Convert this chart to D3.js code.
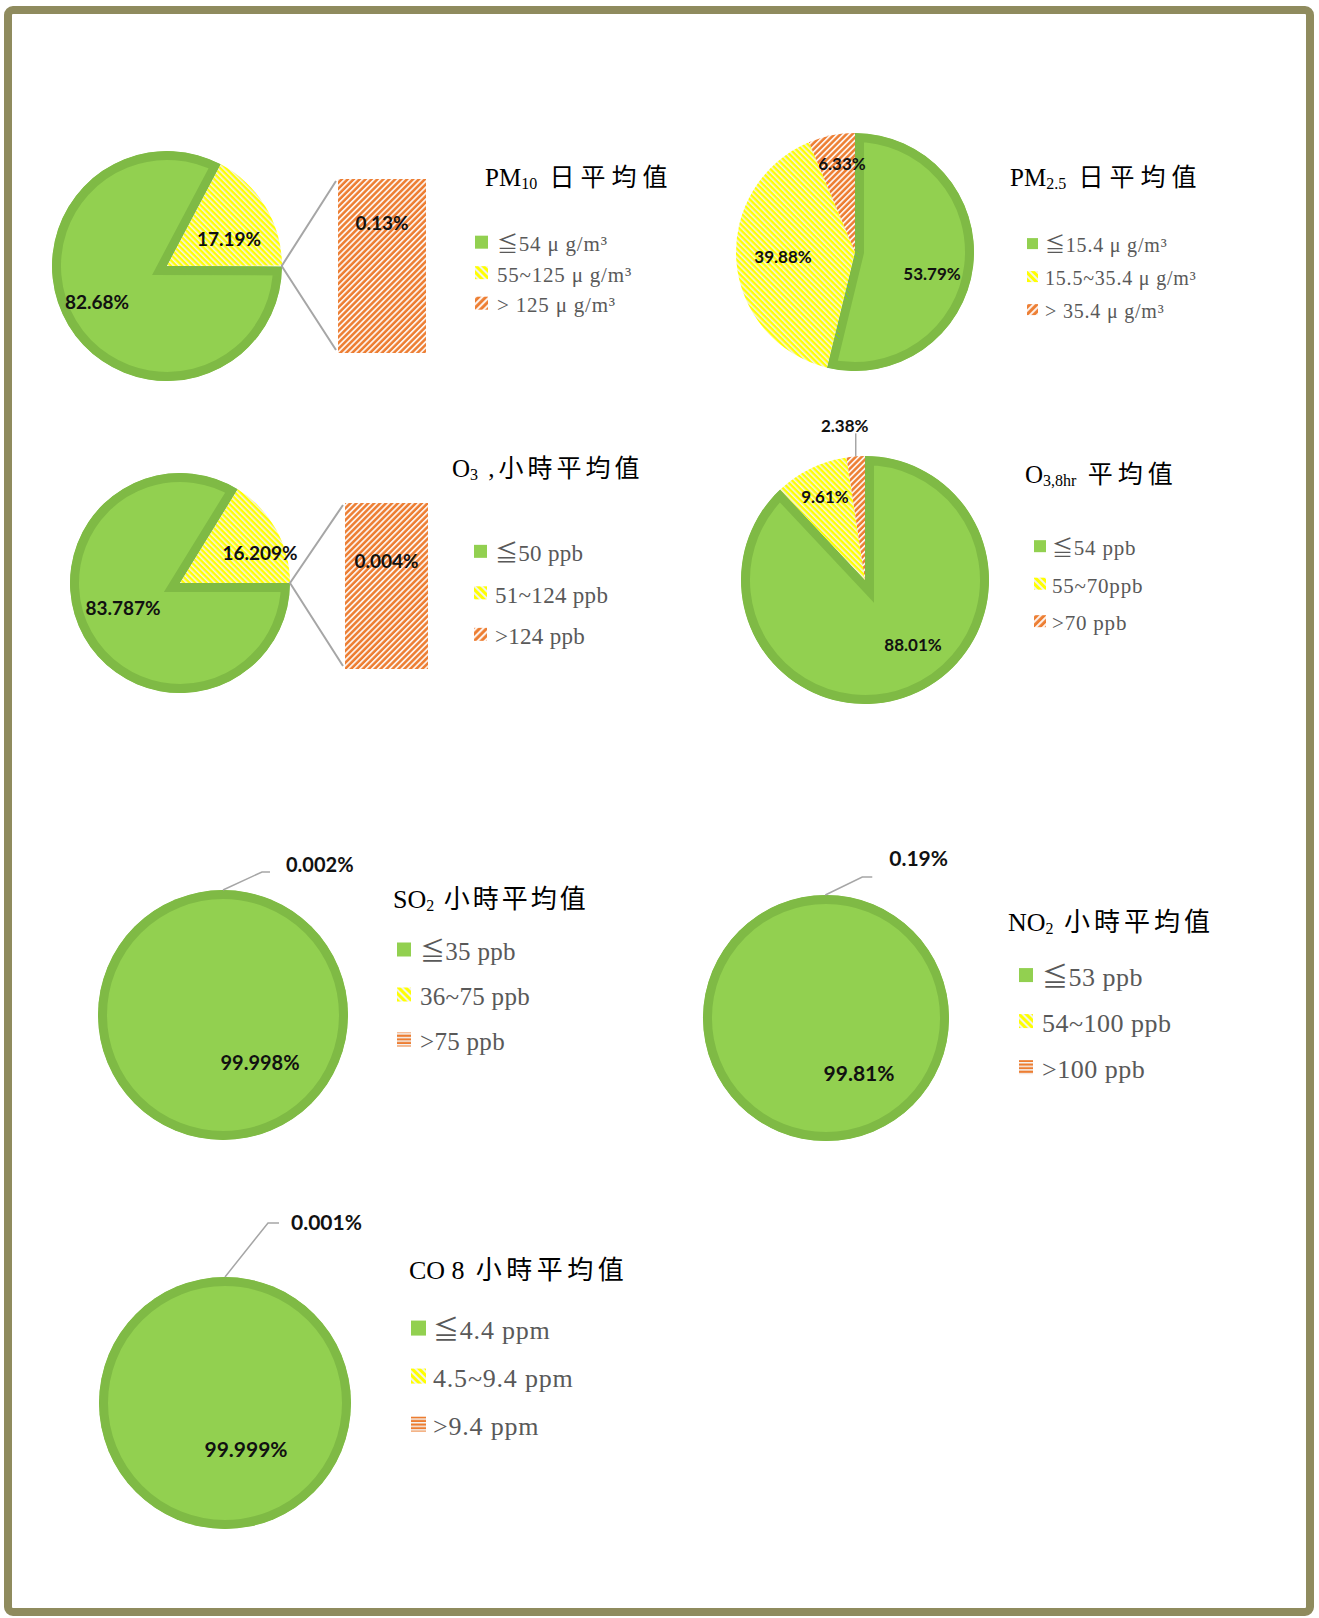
<!DOCTYPE html>
<html>
<head>
<meta charset="utf-8">
<script src="https://cdn.jsdelivr.net/npm/d3@7"></script>
<style>
body { margin: 0; background: #fff; }
.lbl { font-family: Lato, "Open Sans", sans-serif; font-weight: 700; fill: #111; }
.title { font-family: "Liberation Serif", "Noto Sans CJK TC", serif; fill: #000; }
.leg { font-family: "Liberation Serif", "Noto Sans CJK TC", serif; fill: #595959; }
</style>
</head>
<body>
<script>
var width = 1319, height = 1618;

// share of hours / days in each class (%)
var pm10Values = [82.68, 17.19, 0.13];
var pm25Values = [53.79, 39.88, 6.33];
var o3Values = [83.787, 16.209, 0.004];
var o38Values = [88.01, 9.61, 2.38];
var so2Values = [99.998, 0.002, 0];
var no2Values = [99.81, 0.19, 0];
var coValues = [99.999, 0.001, 0];

var pm10Legend = ["≦54  μ g/m³", "55~125 μ g/m³", "> 125  μ g/m³"];
var pm25Legend = ["≦15.4  μ g/m³", "15.5~35.4 μ g/m³", "> 35.4  μ g/m³"];
var o3Legend = ["≦50 ppb", "51~124 ppb", ">124  ppb"];
var o38Legend = ["≦54  ppb", "55~70ppb", ">70  ppb"];
var so2Legend = ["≦35 ppb", "36~75 ppb", ">75 ppb"];
var no2Legend = ["≦53 ppb", "54~100 ppb", ">100 ppb"];
var coLegend = ["≦4.4  ppm", "4.5~9.4  ppm", ">9.4  ppm"];

// [main, subscript, rest]
var pm10Title = ["PM", "10", " 日平均值"];
var pm25Title = ["PM", "2.5", " 日平均值"];
var o3Title = ["O", "3", " ,小時平均值"];
var o38Title = ["O", "3,8hr", " 平均值"];
var so2Title = ["SO", "2", " 小時平均值"];
var no2Title = ["NO", "2", " 小時平均值"];
var coTitle = ["CO 8", "", " 小時平均值"];

var charts = [
  {values: pm10Values, legend: pm10Legend, title: pm10Title, dec: 2, cx: 167, cy: 266, r: 115, lbl: 19,
   labels: [[-70, 36], [62, -27]], bar: {x: 338, y: 179, w: 88, h: 174, ly: 44},
   t: {x: 485, y: 186, size: 25, ls: 6}, leg: {x: 475, y0: 251, dy: 30.5, size: 21, sw: 13, tx: 497, ls: 0.8}, org: "org"},
  {values: pm25Values, legend: pm25Legend, title: pm25Title, dec: 2, cx: 855, cy: 252, r: 119, lbl: 17,
   labels: [[77, 22], [-72, 5], [-13, -88]],
   t: {x: 1010, y: 186, size: 25, ls: 6}, leg: {x: 1027, y0: 252, dy: 33, size: 20, sw: 11, tx: 1045, ls: 0.8}, org: "org"},
  {values: o3Values, legend: o3Legend, title: o3Title, dec: 3, cx: 180, cy: 583, r: 110, lbl: 19,
   labels: [[-57, 25], [80, -30]], bar: {x: 345, y: 503, w: 83, h: 166, ly: 58},
   t: {x: 452, y: 477, size: 25, ls: 4}, leg: {x: 474, y0: 561, dy: 41.5, size: 23, sw: 13, tx: 495, ls: 0.3}, org: "org"},
  {values: o38Values, legend: o38Legend, title: o38Title, dec: 2, cx: 865, cy: 580, r: 124, lbl: 17,
   labels: [[48, 65], [-40, -83]], leader: {i: 2, steps: [[0, -23]], dx: -11, dy: -7, anchor: "middle"},
   t: {x: 1025, y: 483, size: 25, ls: 5}, leg: {x: 1034, y0: 555, dy: 37.5, size: 21, sw: 12, tx: 1052, ls: 0.8}, org: "org"},
  {values: so2Values, legend: so2Legend, title: so2Title, dec: 3, cx: 223, cy: 1015, r: 125, lbl: 20,
   labels: [[37, 48]], leader: {i: 1, steps: [[39, -18], [8, 0]], dx: 16, dy: -7, anchor: "start"},
   t: {x: 393, y: 908, size: 26, ls: 3}, leg: {x: 397, y0: 960, dy: 45, size: 25, sw: 14, tx: 420, ls: 0.3}, org: "orgH"},
  {values: no2Values, legend: no2Legend, title: no2Title, dec: 2, cx: 826, cy: 1018, r: 123, lbl: 21,
   labels: [[33, 55]], leader: {i: 1, steps: [[37, -18], [10, 0]], dx: 17, dy: -19, anchor: "start"},
   t: {x: 1008, y: 931, size: 26, ls: 4}, leg: {x: 1019, y0: 986, dy: 46, size: 26, sw: 14, tx: 1042, ls: 0.5}, org: "orgH"},
  {values: coValues, legend: coLegend, title: coTitle, dec: 3, cx: 225, cy: 1403, r: 126, lbl: 21,
   labels: [[21, 46]], leader: {i: 1, steps: [[43, -54], [11, 0]], dx: 12, dy: -1, anchor: "start"},
   t: {x: 409, y: 1279, size: 26, ls: 4.5}, leg: {x: 411, y0: 1339, dy: 48, size: 26, sw: 15, tx: 433, ls: 0.8}, org: "orgH"}
];

var svg = d3.select("body").append("svg").attr("width", width).attr("height", height);
var defs = svg.append("defs");

function stripes(id, c1, c2, size, angle, frac) {
  var p = defs.append("pattern").attr("id", id).attr("patternUnits", "userSpaceOnUse")
    .attr("width", size).attr("height", size).attr("patternTransform", "rotate(" + angle + ")");
  p.append("rect").attr("width", size).attr("height", size).attr("fill", c1);
  p.append("rect").attr("width", size * frac).attr("height", size).attr("fill", c2);
}
stripes("yel", "#ffff00", "#f2f2ea", 4, -45, 0.4);
stripes("org", "#ed7d31", "#fdf1ea", 4.2, 45, 0.42);
stripes("orgH", "#ed7d31", "#f4f4f4", 3.6, 90, 0.4);
stripes("yelL", "#ffff00", "#f2f2ea", 5, -45, 0.4);
stripes("orgL", "#ed7d31", "#fdf1ea", 5, 45, 0.42);

// frame
svg.append("rect").attr("x", 8).attr("y", 10).attr("width", 1302).attr("height", 1602)
  .attr("rx", 5).attr("fill", "none").attr("stroke", "#8f8b5e").attr("stroke-width", 8);

var green = "#92d050", greenEdge = "#7fba45";

charts.forEach(function(c, ci) {
  var vals = c.values;
  var total = d3.sum(vals);
  var fmt = d3.format("." + c.dec + "f");
  var pie = d3.pie().sort(null);
  if (c.bar) {
    // bar of pie: the split-off slice sits centred on the right
    var half = Math.PI * vals[2] / total;
    pie.startAngle(Math.PI / 2 + half).endAngle(Math.PI / 2 + half + 2 * Math.PI);
  }
  var arcs = pie(vals);
  var arc = d3.arc().innerRadius(0).outerRadius(c.r);
  var g = svg.append("g").attr("transform", "translate(" + c.cx + "," + c.cy + ")");

  arcs.forEach(function(d, i) {
    var share = d.value / total;
    if (c.bar && i === 2) return;
    // slivers under half a percent do not show in the source chart
    if (i > 0 && share < 0.005) return;
    var dd = {startAngle: d.startAngle, endAngle: d.endAngle};
    if (share > 0.99) dd.endAngle = dd.startAngle + 2 * Math.PI;
    var path = arc(dd);
    if (i === 0) {
      var id = "clip" + ci;
      defs.append("clipPath").attr("id", id).append("path").attr("d", path);
      g.append("path").attr("d", path).attr("fill", green)
        .attr("stroke", greenEdge).attr("stroke-width", 18).attr("stroke-linejoin", "miter")
        .attr("clip-path", "url(#" + id + ")");
    } else {
      g.append("path").attr("d", path).attr("fill", i === 1 ? "url(#yel)" : "url(#" + c.org + ")");
    }
  });

  c.labels.forEach(function(p, i) {
    g.append("text").attr("class", "lbl").attr("x", p[0]).attr("y", p[1]).attr("dy", "0.36em")
      .attr("text-anchor", "middle").style("font-size", c.lbl + "px").text(fmt(arcs[i].value) + "%");
  });

  if (c.leader) {
    var d = arcs[c.leader.i];
    var m = (d.startAngle + d.endAngle) / 2;
    var pts = [[c.r * Math.sin(m), -c.r * Math.cos(m)]];
    c.leader.steps.forEach(function(s) {
      var last = pts[pts.length - 1];
      pts.push([last[0] + s[0], last[1] + s[1]]);
    });
    g.append("path").attr("d", d3.line()(pts)).attr("fill", "none")
      .attr("stroke", "#a6a6a6").attr("stroke-width", 1.5);
    var end = pts[pts.length - 1];
    g.append("text").attr("class", "lbl").attr("x", end[0] + c.leader.dx).attr("y", end[1] + c.leader.dy)
      .attr("dy", "0.36em").attr("text-anchor", c.leader.anchor).style("font-size", c.lbl + "px")
      .text(fmt(d.value) + "%");
  }

  if (c.bar) {
    var b = c.bar;
    var y = d3.scaleLinear().domain([0, vals[2]]).range([b.y + b.h, b.y]);
    svg.append("rect").attr("x", b.x).attr("y", y(vals[2])).attr("width", b.w)
      .attr("height", y(0) - y(vals[2])).attr("fill", "url(#org)");
    var o = arcs[2];
    var p1 = [c.cx + c.r * Math.sin(o.startAngle), c.cy - c.r * Math.cos(o.startAngle)];
    var p2 = [c.cx + c.r * Math.sin(o.endAngle), c.cy - c.r * Math.cos(o.endAngle)];
    svg.append("path").attr("d", d3.line()([[b.x - 2, y(vals[2]) + 2], p1, p2, [b.x - 2, y(0) - 3]]))
      .attr("fill", "none").attr("stroke", "#a6a6a6").attr("stroke-width", 2);
    svg.append("text").attr("class", "lbl").attr("x", b.x + b.w / 2).attr("y", b.y + b.ly).attr("dy", "0.36em")
      .attr("text-anchor", "middle").style("font-size", c.lbl + "px").text(fmt(vals[2]) + "%");
  }

  // title
  var tt = svg.append("text").attr("class", "title").attr("x", c.t.x).attr("y", c.t.y)
    .style("font-size", c.t.size + "px");
  tt.append("tspan").text(c.title[0]);
  if (c.title[1]) {
    tt.append("tspan").attr("dy", 3).style("font-size", Math.round(c.t.size * 0.62) + "px").text(c.title[1]);
  }
  tt.append("tspan").attr("dy", c.title[1] ? -3 : 0).style("letter-spacing", c.t.ls + "px").text(c.title[2]);

  // legend
  var fills = [green, "url(#yelL)", c.org === "org" ? "url(#orgL)" : "url(#orgH)"];
  var lg = svg.append("g");
  c.legend.forEach(function(t, i) {
    var yb = c.leg.y0 + i * c.leg.dy;
    lg.append("rect").attr("x", c.leg.x).attr("y", yb - c.leg.size * 0.42 - c.leg.sw / 2)
      .attr("width", c.leg.sw).attr("height", c.leg.sw).attr("fill", fills[i]);
    lg.append("text").attr("class", "leg").attr("x", c.leg.tx).attr("y", yb)
      .style("font-size", c.leg.size + "px").style("letter-spacing", c.leg.ls + "px").text(t);
  });
});
</script>
</body>
</html>
